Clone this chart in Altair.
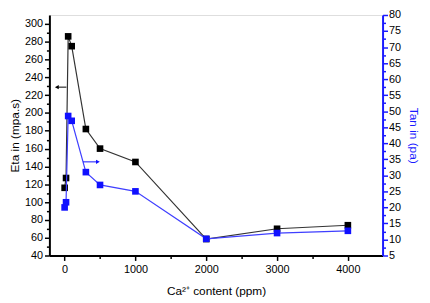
import altair as alt
import pandas as pd

# Data
ca = [0, 20, 50, 100, 300, 500, 1000, 2000, 3000, 4000]
eta = [116, 127, 286, 275, 182, 160, 145, 58.5, 70, 74]
tan = [20, 21.6, 48.5, 47, 31, 27, 25, 10.2, 12, 12.7]

# arrow annotations (data coordinates)
eta_arrow_x = [-110, 25]
eta_arrow_y = [229]
tan_arrow_x = [260, 470]
tan_arrow_y = [34.2]

x_domain = [-215, 4490]
eta_domain = [40, 310]
tan_domain = [5, 80]

x_ticks = list(range(0, 4001, 500))
eta_ticks = list(range(40, 301, 10))
tan_ticks = [5 + 2.5 * i for i in range(31)]

df = pd.DataFrame({"ca": ca, "eta": eta, "tan": tan})
eta_arrow = pd.DataFrame({"x": [eta_arrow_x[0]], "x2": [eta_arrow_x[1]], "y": eta_arrow_y})
tan_arrow = pd.DataFrame({"x": [tan_arrow_x[0]], "x2": [tan_arrow_x[1]], "y": tan_arrow_y})

FONT = "Liberation Sans"

x_axis = alt.Axis(
    title="Ca²⁺ content (ppm)", values=x_ticks, format="d",
    labelExpr="datum.value % 1000 === 0 ? datum.label : ''",
    tickSize={"condition": {"test": "datum.value % 1000 === 0", "value": 5}, "value": 3},
    domainColor="black", domainWidth=2, tickColor="black", tickWidth=1.5,
    labelFontSize=11, labelColor="black", labelPadding=3, titleFontSize=12,
    titleFontWeight="normal", titleColor="black", titlePadding=12, grid=False,
)
x_scale = alt.Scale(domain=x_domain, nice=False, zero=False)

eta_axis = alt.Axis(
    title="Eta in (mpa.s)", orient="left", values=eta_ticks, format="d",
    labelExpr="datum.value % 20 === 0 ? datum.label : ''",
    tickSize={"condition": {"test": "datum.value % 20 === 0", "value": 5}, "value": 3},
    domainColor="black", domainWidth=2, tickColor="black", tickWidth=1.5,
    labelFontSize=11, labelColor="black", labelPadding=2, titleFontSize=12,
    titleFontWeight="normal", titleColor="black", titlePadding=3, grid=False,
)
eta_scale = alt.Scale(domain=eta_domain, nice=False, zero=False)

tan_axis = alt.Axis(
    title="Tan in (pa)", orient="right", values=tan_ticks, format="d",
    labelExpr="datum.value % 5 === 0 ? datum.label : ''",
    tickSize={"condition": {"test": "datum.value % 5 === 0", "value": 5}, "value": 3},
    domainColor="#1a1aff", domainWidth=2, tickColor="#1a1aff", tickWidth=1.5,
    labelFontSize=11, labelColor="black", labelPadding=1, titleFontSize=12,
    titleFontWeight="normal", titleColor="#1a1aff", titlePadding=6, titleAngle=90,
    grid=False,
)
tan_scale = alt.Scale(domain=tan_domain, nice=False, zero=False)

BLACK_LINE = "#333333"
BLUE_LINE = "#3f3fff"
BLUE_PT = "#1010ff"

base = alt.Chart(df)

eta_line = base.mark_line(color=BLACK_LINE, strokeWidth=1.2).encode(
    x=alt.X("ca:Q", scale=x_scale, axis=x_axis),
    y=alt.Y("eta:Q", scale=eta_scale, axis=eta_axis),
)
eta_pts = base.mark_point(shape="square", filled=True, color="black", size=45, opacity=1).encode(
    x=alt.X("ca:Q", scale=x_scale, axis=x_axis),
    y=alt.Y("eta:Q", scale=eta_scale, axis=eta_axis),
)
eta_arr_rule = alt.Chart(eta_arrow).mark_rule(color="black", strokeWidth=1).encode(
    x=alt.X("x:Q", scale=x_scale, axis=x_axis),
    x2="x2:Q",
    y=alt.Y("y:Q", scale=eta_scale, axis=eta_axis),
)
eta_arr_head = alt.Chart(eta_arrow).mark_point(shape="triangle-left", filled=True, color="black", size=20, opacity=1).encode(
    x=alt.X("x:Q", scale=x_scale, axis=x_axis),
    y=alt.Y("y:Q", scale=eta_scale, axis=eta_axis),
)
left = alt.layer(eta_line, eta_pts, eta_arr_rule, eta_arr_head)

tan_line = base.mark_line(color=BLUE_LINE, strokeWidth=1.2).encode(
    x=alt.X("ca:Q", scale=x_scale, axis=x_axis),
    y=alt.Y("tan:Q", scale=tan_scale, axis=tan_axis),
)
tan_pts = base.mark_point(shape="square", filled=True, color=BLUE_PT, size=45, opacity=1).encode(
    x=alt.X("ca:Q", scale=x_scale, axis=x_axis),
    y=alt.Y("tan:Q", scale=tan_scale, axis=tan_axis),
)
tan_arr_rule = alt.Chart(tan_arrow).mark_rule(color=BLUE_PT, strokeWidth=1).encode(
    x=alt.X("x:Q", scale=x_scale, axis=x_axis),
    x2="x2:Q",
    y=alt.Y("y:Q", scale=tan_scale, axis=tan_axis),
)
tan_arr_head = alt.Chart(tan_arrow).mark_point(shape="triangle-right", filled=True, color=BLUE_PT, size=20, opacity=1).encode(
    x=alt.X("x2:Q", scale=x_scale, axis=x_axis),
    y=alt.Y("y:Q", scale=tan_scale, axis=tan_axis),
)
right = alt.layer(tan_line, tan_pts, tan_arr_rule, tan_arr_head)

chart = alt.layer(left, right).resolve_scale(y="independent").properties(
    width=338, height=244,
    autosize=alt.AutoSizeParams(type="none"),
    padding={"left": 42, "top": 5, "right": 40, "bottom": 40},
    background="white",
).configure_view(
    stroke="black", strokeWidth=2,
).configure(font=FONT)

chart.save("out.html", embed_options={"renderer": "svg", "actions": False})
